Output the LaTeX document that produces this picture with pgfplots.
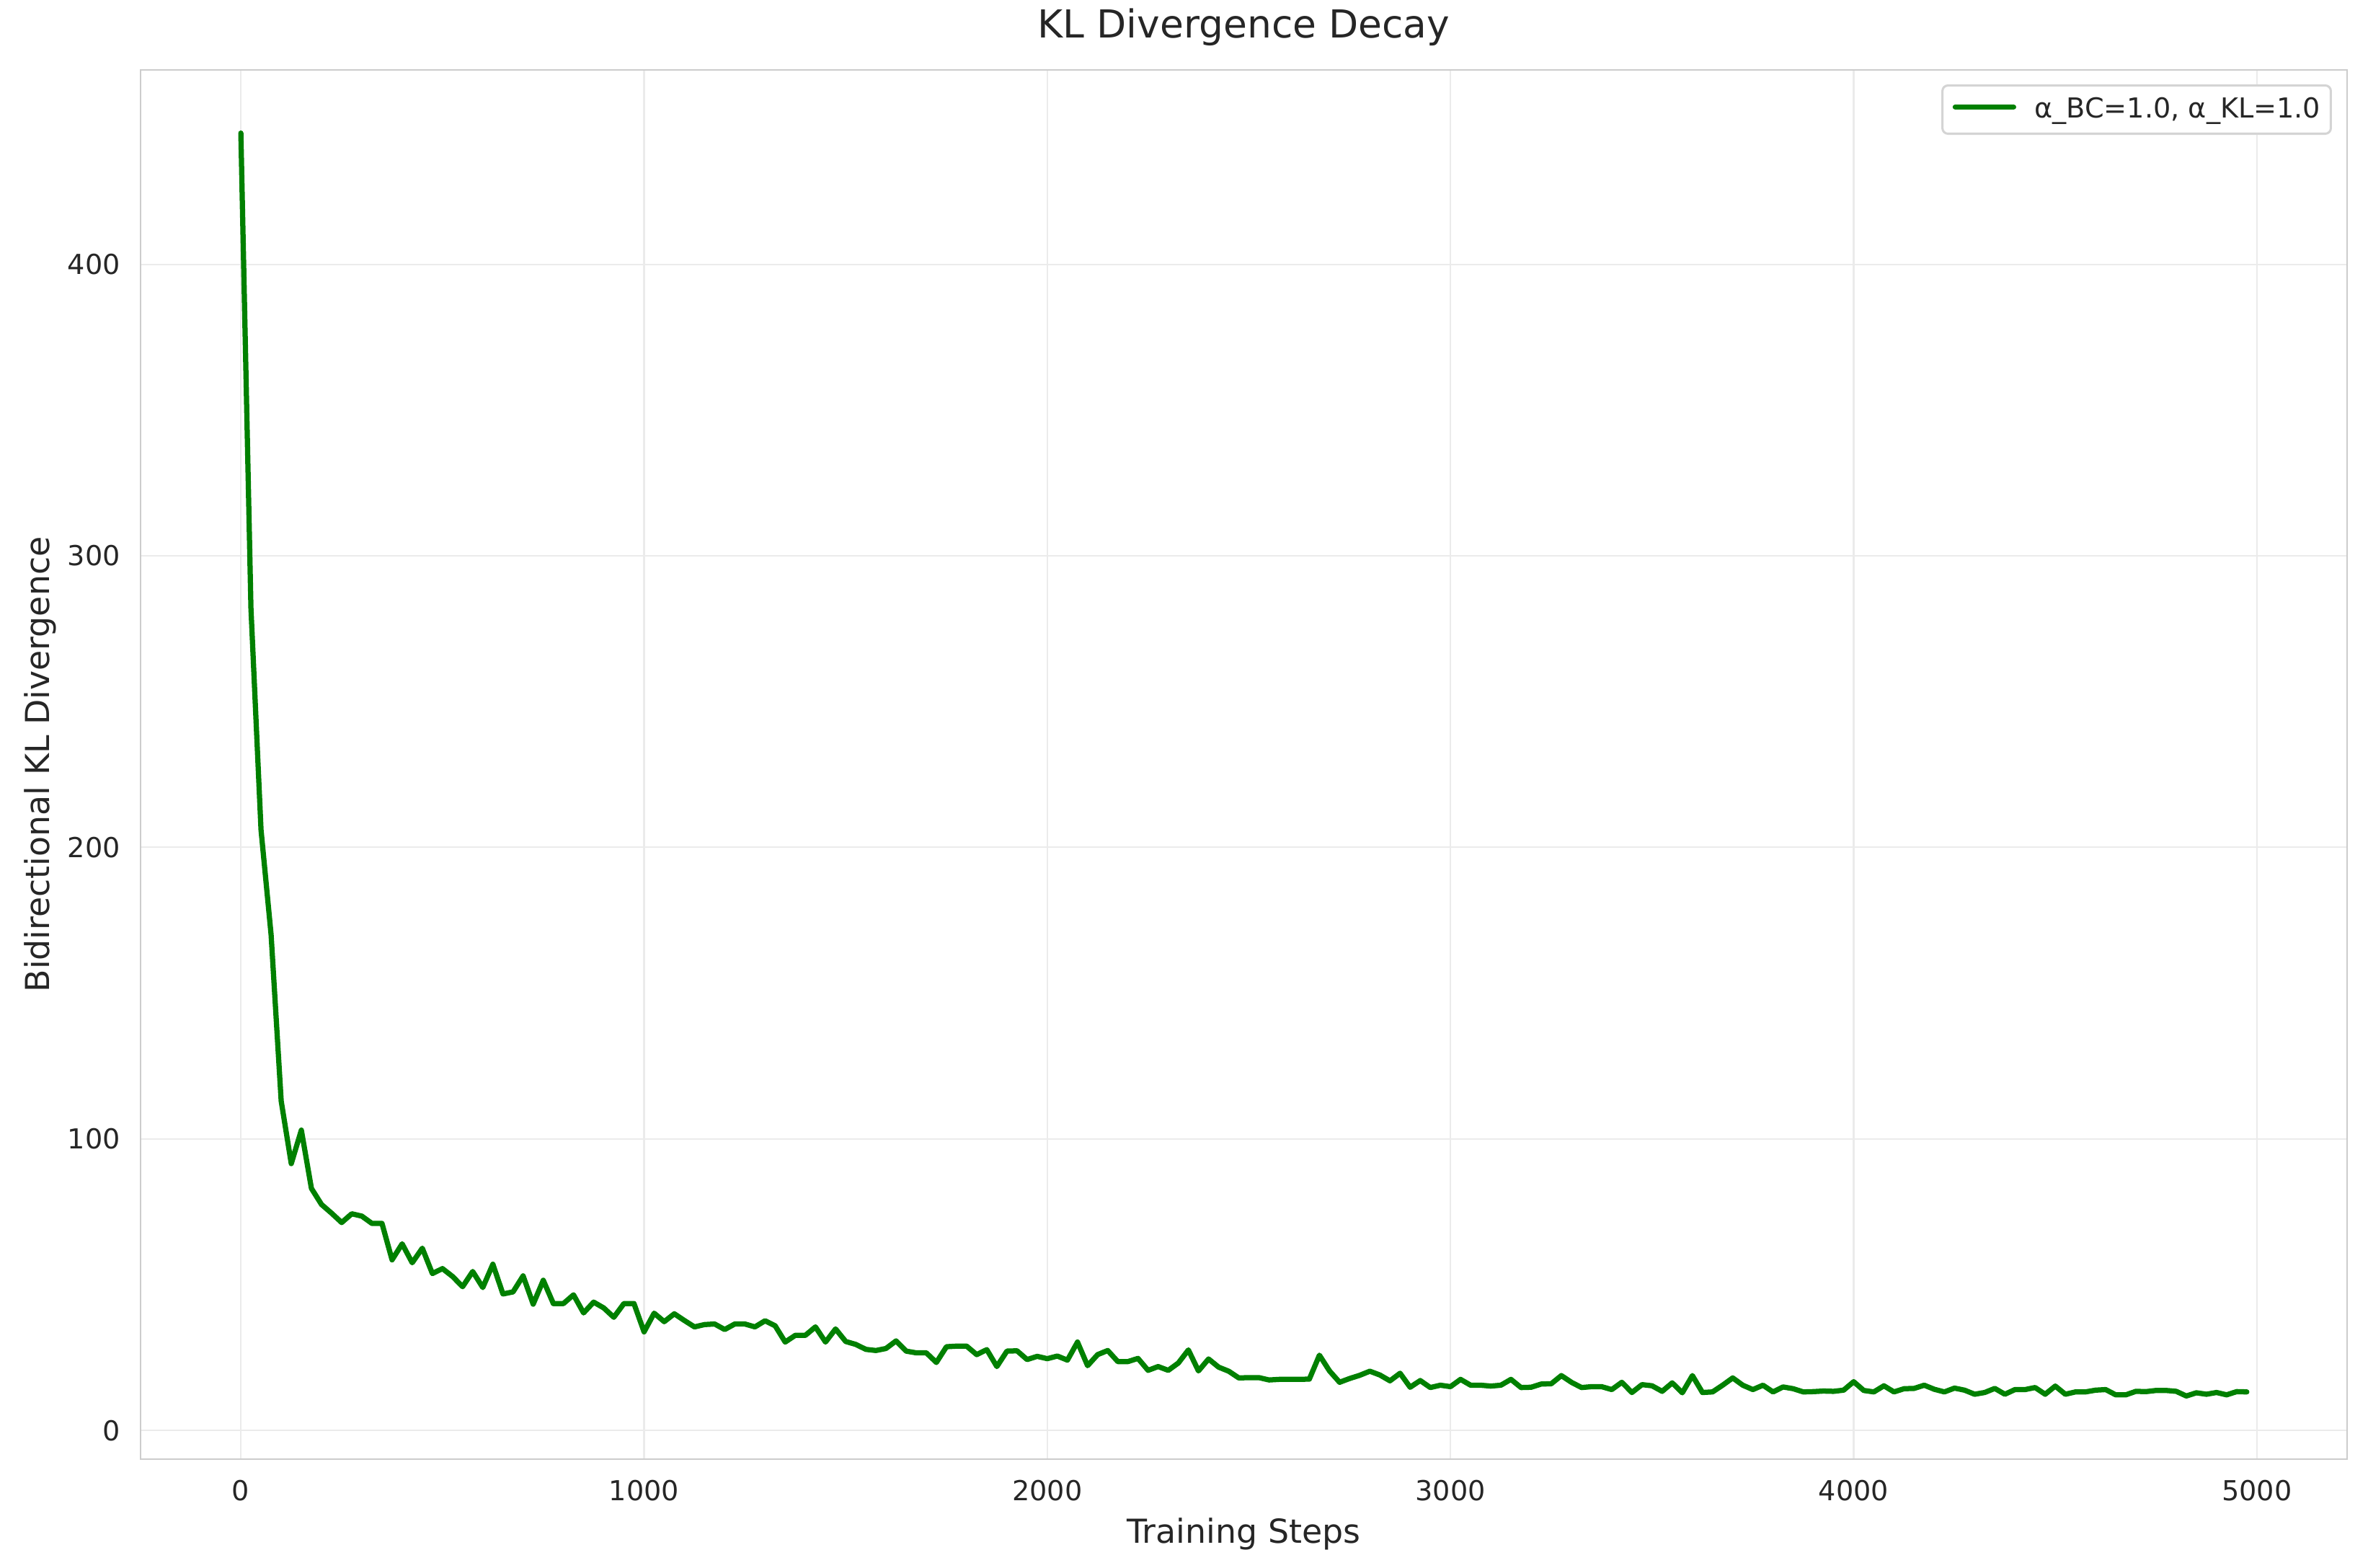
\documentclass[border=0pt]{standalone}
\usepackage{fontspec}
\setmainfont{DejaVu Sans}
\usepackage{pgfplots}
\usepackage{pgfplotstable}
\pgfplotsset{compat=1.18}
\definecolor{textc}{HTML}{262626}
\definecolor{gridc}{HTML}{EBEBEB}
\definecolor{spinec}{HTML}{CCCCCC}
\definecolor{legc}{HTML}{D4D4D4}
\definecolor{linec}{HTML}{008000}
\pgfplotstableread{
x y
0 445
25 282
50 206
75 170
100 113
125 91.5
150 103
175 83
200 77.5
225 74.5
250 71.3
275 74.3
300 73.5
325 71
350 71
375 58.5
400 64
425 57.5
450 62.5
475 53.8
500 55.5
525 52.8
550 49.3
575 54.5
600 49
625 57
650 46.8
675 47.5
700 53
725 43.3
750 51.5
775 43.5
800 43.5
825 46.5
850 40.3
875 44
900 42
925 38.8
950 43.5
975 43.5
1000 33.8
1025 40.2
1050 37.3
1075 40
1100 37.7
1125 35.5
1150 36.3
1175 36.5
1200 34.6
1225 36.5
1250 36.5
1275 35.5
1300 37.6
1325 35.9
1350 30.3
1375 32.6
1400 32.6
1425 35.5
1450 30.3
1475 34.8
1500 30.5
1525 29.5
1550 27.8
1575 27.4
1600 28.1
1625 30.7
1650 27.2
1675 26.6
1700 26.6
1725 23.3
1750 28.7
1775 28.9
1800 28.9
1825 26.0
1850 27.7
1875 21.9
1900 27.2
1925 27.3
1950 24.3
1975 25.4
2000 24.6
2025 25.5
2050 24.1
2075 30.3
2100 22.2
2125 26.0
2150 27.4
2175 23.6
2200 23.6
2225 24.7
2250 20.6
2275 21.9
2300 20.6
2325 23.1
2350 27.6
2375 20.4
2400 24.5
2425 21.7
2450 20.3
2475 18.0
2500 18.1
2525 18.1
2550 17.3
2575 17.5
2600 17.5
2625 17.5
2650 17.6
2675 25.8
2700 20.4
2725 16.5
2750 17.8
2775 18.9
2800 20.3
2825 19.0
2850 17.0
2875 19.6
2900 14.8
2925 17.1
2950 14.7
2975 15.5
3000 15.0
3025 17.5
3050 15.5
3075 15.5
3100 15.2
3125 15.5
3150 17.5
3175 14.7
3200 14.8
3225 15.9
3250 16.0
3275 18.8
3300 16.5
3325 14.7
3350 15.0
3375 15.0
3400 14.0
3425 16.5
3450 13.0
3475 15.7
3500 15.3
3525 13.4
3550 16.3
3575 12.9
3600 18.8
3625 13.0
3650 13.2
3675 15.5
3700 18.0
3725 15.5
3750 14.0
3775 15.5
3800 13.2
3825 14.9
3850 14.3
3875 13.2
3900 13.3
3925 13.5
3950 13.4
3975 13.8
4000 16.7
4025 13.7
4050 13.2
4075 15.3
4100 13.2
4125 14.3
4150 14.4
4175 15.5
4200 14.1
4225 13.2
4250 14.5
4275 13.8
4300 12.4
4325 13.0
4350 14.4
4375 12.4
4400 14.0
4425 14.0
4450 14.7
4475 12.4
4500 15.2
4525 12.4
4550 13.2
4575 13.2
4600 13.8
4625 14.0
4650 12.2
4675 12.2
4700 13.4
4725 13.3
4750 13.7
4775 13.7
4800 13.4
4825 11.8
4850 12.9
4875 12.4
4900 13.0
4925 12.2
4950 13.3
4975 13.2
}\kldata
\begin{document}
\begin{tikzpicture}
\begin{axis}[
  at={(0pt,0pt)}, anchor=south west,
  scale only axis, width=801.3pt, height=504.45pt,
  xmin=-248.75, xmax=5223.75, ymin=-9.86, ymax=466.66,
  xtick={0,1000,2000,3000,4000,5000},
  ytick={0,100,200,300,400},
  /pgf/number format/assume math mode=true,
  /pgf/number format/1000 sep={},
  scaled x ticks=false, scaled y ticks=false,
  major tick length=0pt,
  grid=major,
  major grid style={color=gridc, line width=0.55pt},
  axis line style={color=spinec, line width=0.75pt},
  tick label style={font=\fontsize{10}{12}\selectfont, text=textc},
  xticklabel style={anchor=base, inner sep=0pt, yshift=-15pt},
  yticklabel style={anchor=east, inner sep=0pt, xshift=-7.2pt},
  title={KL Divergence Decay},
  title style={at={(axis description cs:0.5,1.01142)}, anchor=base, inner sep=0pt, font=\fontsize{14}{17}\selectfont, text=textc},
  xlabel={Training Steps},
  xlabel style={at={(axis description cs:0.5,-0.0602)}, anchor=base, inner sep=0pt, font=\fontsize{12}{14}\selectfont, text=textc},
  ylabel={Bidirectional KL Divergence},
  ylabel style={at={(axis description cs:-0.04118,0.5)}, anchor=base, rotate=0, inner sep=0pt, font=\fontsize{12}{14}\selectfont, text=textc},
  legend style={at={(axis description cs:1,1)}, anchor=north east, xshift=-5.5pt, yshift=-5.24pt,
    draw=legc, line width=0.8pt, rounded corners=2pt, fill=white,
    inner xsep=3.7pt, inner ysep=4.3pt, column sep=0pt,
    nodes={inner sep=0pt, anchor=base, text=textc},
    font=\fontsize{10}{12}\selectfont},
  legend image code/.code={\draw[#1] (0pt,3.9pt) -- (21.2pt,3.9pt); \path[draw=none] (0pt,3.9pt) -- (28.8pt,3.9pt);},
]
\addplot[color=linec, line width=1.9pt, line join=round, line cap=round] table[x=x, y=y] {\kldata};
\addlegendentry{α\_BC=1.0, α\_KL=1.0}
\end{axis}
\pgfresetboundingbox
\path[use as bounding box] (-51.05pt,-39.5pt) rectangle (808.9pt,529.85pt);
\end{tikzpicture}
\end{document}
